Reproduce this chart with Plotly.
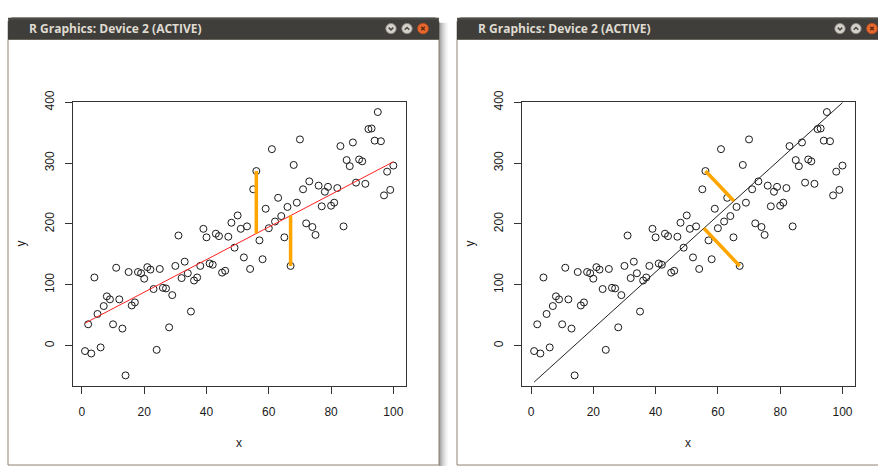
import numpy as np
import plotly.graph_objects as go

# ---------------- data ----------------
x = list(range(1, 101))
y = [-9, 35, -13, 112, 52, -3, 65, 81, 76, 35,
     128, 76, 28, -49, 121, 66, 71, 121, 119, 110,
     129, 125, 93, -7, 126, 95, 94, 30, 83, 131,
     181, 111, 138, 119, 56, 107, 112, 131, 192, 178,
     135, 133, 184, 180, 120, 123, 179, 202, 161, 214,
     192, 145, 196, 126, 257, 287, 173, 142, 225, 193,
     323, 204, 243, 213, 178, 228, 131, 297, 235, 339,
     257, 201, 270, 195, 182, 263, 229, 253, 261, 230,
     235, 259, 328, 196, 305, 295, 334, 268, 306, 303,
     266, 356, 357, 337, 384, 336, 247, 286, 256, 296]
x_ticks = [0, 20, 40, 60, 80, 100]
y_ticks = [0, 100, 200, 300, 400]
highlight_x = [56, 67]            # points whose residuals are drawn
fit_intercept = 34.2
fit_slope = 2.68
major_intercept = -64.6
major_slope = 4.64
window_title = "R Graphics: Device 2 (ACTIVE)"

# ---------------- geometry helpers ----------------
W, H = 878, 466
def px(v):
    return v / W
def py(v):
    return 1 - v / H

def ext(lo, hi):
    s = hi - lo
    return [lo - 0.04 * s, hi + 0.04 * s]

xr = ext(min(x), max(x))
yr = ext(min(y), max(y))

box_top, box_bot = 92.7, 384.0
left_box = (72.7, 405.7)
right_box = (521.8, 854.8)

# pixel scale (for perpendicular projection in screen space)
sx = (right_box[1] - right_box[0]) / (xr[1] - xr[0])
sy = (box_bot - box_top) / (yr[1] - yr[0])

FONT = "Liberation Sans, Arial, sans-serif"
INK = "#1a1a1a"
ORANGE = "#FFA500"

fig = go.Figure()

# ---------- left panel ----------
fig.add_trace(go.Scatter(x=x, y=y, mode="markers", xaxis="x", yaxis="y",
                         marker=dict(symbol="circle-open", size=7, color=INK,
                                     line=dict(width=1)), hoverinfo="skip"))
fx = [x[0], x[-1]]
fig.add_trace(go.Scatter(x=fx, y=[fit_intercept + fit_slope * v for v in fx], mode="lines",
                         xaxis="x", yaxis="y",
                         line=dict(color="#ff2020", width=1), hoverinfo="skip"))
for hx in highlight_x:
    hy = y[x.index(hx)]
    fig.add_trace(go.Scatter(x=[hx, hx], y=[hy, fit_intercept + fit_slope * hx], mode="lines",
                             xaxis="x", yaxis="y",
                             line=dict(color=ORANGE, width=3.5), hoverinfo="skip"))

# ---------- right panel ----------
fig.add_trace(go.Scatter(x=x, y=y, mode="markers", xaxis="x2", yaxis="y2",
                         marker=dict(symbol="circle-open", size=7, color=INK,
                                     line=dict(width=1)), hoverinfo="skip"))
fig.add_trace(go.Scatter(x=fx, y=[major_intercept + major_slope * v for v in fx],
                         mode="lines", xaxis="x2", yaxis="y2",
                         line=dict(color="#222222", width=1), hoverinfo="skip"))
m = major_slope * sy / sx
c = major_intercept * sy
for hx in highlight_x:
    hy = y[x.index(hx)]
    u, v = hx * sx, hy * sy
    t = (u + m * (v - c)) / (1 + m * m)
    fx_ = t / sx
    fy_ = major_intercept + major_slope * fx_
    fig.add_trace(go.Scatter(x=[hx, fx_], y=[hy, fy_], mode="lines",
                             xaxis="x2", yaxis="y2",
                             line=dict(color=ORANGE, width=3.5), hoverinfo="skip"))

axis_common = dict(showline=True, mirror=True, linecolor="#333333", linewidth=1,
                   ticks="outside", ticklen=7, tickcolor="#333333", tickwidth=1,
                   showgrid=False, zeroline=False,
                   tickfont=dict(family=FONT, size=12, color=INK))

fig.update_layout(
    width=W, height=H, margin=dict(l=0, r=0, t=0, b=0),
    paper_bgcolor="white", plot_bgcolor="white", showlegend=False,
    xaxis=dict(domain=[px(left_box[0]), px(left_box[1])], range=xr, anchor="y",
               tickvals=x_ticks, ticklabelstandoff=8, **axis_common),
    yaxis=dict(domain=[py(box_bot), py(box_top)], range=yr, anchor="x",
               tickvals=y_ticks, tickangle=-90, ticklabelstandoff=6, **axis_common),
    xaxis2=dict(domain=[px(right_box[0]), px(right_box[1])], range=xr, anchor="y2",
                tickvals=x_ticks, ticklabelstandoff=8, **axis_common),
    yaxis2=dict(domain=[py(box_bot), py(box_top)], range=yr, anchor="x2",
                tickvals=y_ticks, tickangle=-90, ticklabelstandoff=6, **axis_common),
)

# ---------------- window chrome ----------------
shapes = []
annotations = []

def rect(x0, y0, x1, y1, fill, line=None, lw=0, layer="below"):
    shapes.append(dict(type="rect", xref="paper", yref="paper",
                       x0=px(x0), x1=px(x1), y0=py(y1), y1=py(y0),
                       fillcolor=fill, line=dict(color=line or fill, width=lw),
                       layer=layer))

def path(points, color, width, fill=None, closed=False, layer="above"):
    d = "M " + " L ".join(f"{px(a):.6f},{py(b):.6f}" for a, b in points)
    if closed:
        d += " Z"
    shapes.append(dict(type="path", xref="paper", yref="paper", path=d,
                       line=dict(color=color, width=width),
                       fillcolor=fill if fill else "rgba(0,0,0,0)", layer=layer))

def circle(cx, cy, r, fill, line):
    shapes.append(dict(type="circle", xref="paper", yref="paper",
                       x0=px(cx - r), x1=px(cx + r), y0=py(cy + r), y1=py(cy - r),
                       fillcolor=fill, line=dict(color=line, width=0.8), layer="above"))

def window(x0, x1):
    # shadow to the right
    shades = ["#9a9a9a", "#acacac", "#bcbcbc", "#cacaca", "#d6d6d6",
              "#e1e1e1", "#eaeaea", "#f2f2f2", "#f8f8f8"]
    for i, col in enumerate(shades):
        rect(x1 + i, 12, x1 + i + 1, 466, col)
    # body
    rect(x0, 29, x1, 465, "white", line="#8d8272", lw=1)
    # title bar with rounded top corners
    r = 4
    pts = [(x0, 29), (x0, 7 + r), (x0 + 1, 8), (x0 + r, 7), (x1 - r, 7),
           (x1 - 1, 8), (x1, 7 + r), (x1, 29)]
    path(pts, "#3d3c38", 0.5, fill="#3f3e3a", closed=True, layer="below")
    rect(x0, 7, x1, 9, "#4d4c48", layer="below")
    annotations.append(dict(text="<b>" + window_title + "</b>", x=px(x0 + 19), y=py(18),
                            xref="paper", yref="paper", xanchor="left", yanchor="middle",
                            showarrow=False,
                            font=dict(family="Open Sans, DejaVu Sans, sans-serif",
                                      size=12, color="#dfdbd2")))
    # buttons
    bx = [x0 + 383, x0 + 399, x0 + 415]
    cy = 18
    circle(bx[0], cy, 5.2, "#d4d1cb", "#8f8c86")
    path([(bx[0] - 2.3, cy - 1), (bx[0], cy + 1.3), (bx[0] + 2.3, cy - 1)], "#4a4945", 1.5)
    circle(bx[1], cy, 5.2, "#d4d1cb", "#8f8c86")
    path([(bx[1] - 2.3, cy + 1.2), (bx[1], cy - 1.1), (bx[1] + 2.3, cy + 1.2)], "#4a4945", 1.5)
    circle(bx[2], cy, 5.4, "#e8692f", "#b94a1c")
    path([(bx[2] - 1.8, cy - 1.8), (bx[2] + 1.8, cy + 1.8)], "#5a2a12", 1.3)
    path([(bx[2] - 1.8, cy + 1.8), (bx[2] + 1.8, cy - 1.8)], "#5a2a12", 1.3)

window(8, 439)
window(457, 888)

# axis titles
for bx0, bx1, wx in [(left_box[0], left_box[1], 8), (right_box[0], right_box[1], 457)]:
    annotations.append(dict(text="x", x=px((bx0 + bx1) / 2), y=py(442), xref="paper",
                            yref="paper", showarrow=False, xanchor="center", yanchor="middle",
                            font=dict(family=FONT, size=12, color=INK)))
    annotations.append(dict(text="y", x=px(wx + 12.7), y=py((box_top + box_bot) / 2),
                            xref="paper", yref="paper", showarrow=False, textangle=-90,
                            xanchor="center", yanchor="middle",
                            font=dict(family=FONT, size=12, color=INK)))

fig.update_layout(shapes=shapes, annotations=annotations)

pin = ("document.documentElement.style.margin='0';"
       "document.body.style.margin='0';document.body.style.padding='0';"
       "document.body.style.overflow='hidden';"
       "var d=document.getElementById('{plot_id}');"
       "d.style.position='fixed';d.style.left='0px';d.style.top='0px';")
fig.write_html("out.html", post_script=pin, config={"displayModeBar": False})
